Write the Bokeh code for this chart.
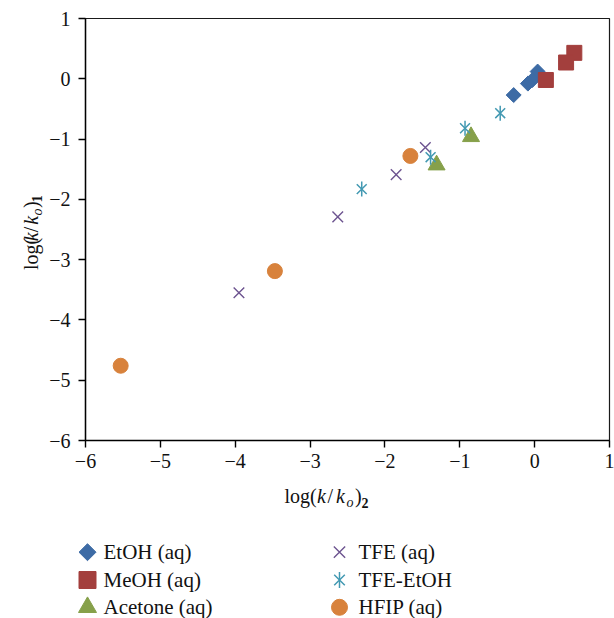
import numpy as np
from bokeh.plotting import figure
from bokeh.layouts import row, column
from bokeh.models import Range1d, FixedTicker
from bokeh.core.properties import value
from bokeh.embed import file_html
from bokeh.resources import INLINE

# ---- data ----
etoh_x = [0.04, -0.03, -0.09, -0.28]
etoh_y = [0.12, -0.02, -0.08, -0.27]
meoh_x = [0.53, 0.42, 0.15]
meoh_y = [0.43, 0.27, -0.02]
acetone_x = [-0.85, -1.31]
acetone_y = [-0.96, -1.43]
tfe_x = [-1.46, -1.85, -2.63, -3.95]
tfe_y = [-1.14, -1.59, -2.29, -3.55]
tfe_etoh_x = [-0.46, -0.93, -1.39, -2.31]
tfe_etoh_y = [-0.57, -0.82, -1.30, -1.83]
hfip_x = [-1.66, -3.47, -5.53]
hfip_y = [-1.28, -3.19, -4.76]

x_ticks = [-6, -5, -4, -3, -2, -1, 0, 1]
y_ticks = [-6, -5, -4, -3, -2, -1, 0, 1]
series_names = ["EtOH (aq)", "MeOH (aq)", "Acetone (aq)", "TFE (aq)", "TFE-EtOH", "HFIP (aq)"]
# axis titles as styled pieces: (text, style, size px, subscript)
x_title = [("log(", "normal", 20, False), ("k", "italic", 20, False), ("/", "normal", 20, False),
           ("k", "italic", 20, False), ("o", "italic", 14, True), (")", "normal", 20, False),
           ("2", "bold", 14, True)]
y_title = [("log(", "normal", 20, False), ("k", "italic", 20, False), ("/", "normal", 20, False),
           ("k", "italic", 20, False), ("o", "italic", 14, True), (")", "normal", 20, False),
           ("1", "bold", 14, True)]

# ---- styling / layout constants ----
FONT = "Liberation Serif"
TXT = "#111111"
C_ETOH, C_MEOH, C_ACET = "#3D6BA5", "#A33F3D", "#86A04A"
C_TFE, C_TFEE, C_HFIP = "#6D5490", "#4399B2", "#D8823C"
title_adv = [32.5, 10.5, 8.5, 10.5, 8.5, 6.5, 8]   # advance of each title piece, px
SUB_SHIFT = 4.5
MID = 0.3375        # distance baseline -> middle of text box, in em

W, H = 614, 618
YT_W = 44          # width of the strip holding the y title
MAIN_H = 480       # height of the main plot figure
BOT_H = H - MAIN_H # strip holding the x title and the legend


def plain(fig):
    fig.grid.visible = False
    fig.outline_line_color = None
    fig.background_fill_color = "white"
    fig.border_fill_color = "white"
    fig.min_border = 0


# ---- main plot ----
p = figure(width=W - YT_W, height=MAIN_H,
           x_range=Range1d(-6, 1), y_range=Range1d(-6, 1),
           output_backend="svg", toolbar_location=None,
           min_border_left=85 - YT_W, min_border_right=5,
           min_border_top=18, min_border_bottom=MAIN_H - 440)
p.grid.visible = False
p.outline_line_color = "#1a1a1a"
p.outline_line_width = 1.2
p.background_fill_color = "white"
p.border_fill_color = "white"

for ax, ticks in ((p.xaxis[0], x_ticks), (p.yaxis[0], y_ticks)):
    ax.ticker = FixedTicker(ticks=ticks)
    ax.major_label_overrides = {t: str(t).replace("-", "\u2212") for t in ticks}
    ax.major_tick_out = 7
    ax.major_tick_in = 0
    ax.minor_tick_out = 0
    ax.minor_tick_in = 0
    ax.axis_line_width = 1.4
    ax.axis_line_color = "black"
    ax.major_tick_line_width = 1.4
    ax.major_tick_line_color = "black"
    ax.major_label_text_font = FONT
    ax.major_label_text_font_size = "20px"
    ax.major_label_text_color = TXT
p.xaxis.major_label_standoff = 6
p.yaxis.major_label_standoff = 8

p.scatter(etoh_x, etoh_y, marker="square", angle=np.pi / 4, size=10.6,
          fill_color=C_ETOH, line_color=C_ETOH)
p.scatter(meoh_x, meoh_y, marker="square", size=15, fill_color=C_MEOH, line_color=C_MEOH)
p.scatter(acetone_x, acetone_y, marker="triangle", size=17, fill_color=C_ACET, line_color=C_ACET)
p.scatter(tfe_x, tfe_y, marker="x", size=15, line_color=C_TFE, line_width=1.4)
p.scatter(tfe_etoh_x, tfe_etoh_y, marker="x", size=14, line_color=C_TFEE, line_width=1.5)
p.scatter(tfe_etoh_x, tfe_etoh_y, marker="dash", angle=np.pi / 2, size=15,
          line_color=C_TFEE, line_width=1.5)
p.scatter(hfip_x, hfip_y, marker="circle", size=15, fill_color=C_HFIP, line_color=C_HFIP)

# ---- left strip: y title (rotated) ----
yt = figure(width=YT_W, height=MAIN_H, x_range=Range1d(0, YT_W), y_range=Range1d(0, MAIN_H),
            output_backend="svg", toolbar_location=None,
            x_axis_location=None, y_axis_location=None)
plain(yt)
y_base_x = 37           # baseline position (px from left)
pos = MAIN_H - 286      # start of the title (px from bottom)
for (txt, style, size, sub), adv in zip(y_title, title_adv):
    cx = y_base_x + (SUB_SHIFT if sub else 0) - MID * size
    yt.text(x=[cx], y=[pos], text=[txt], angle=np.pi / 2,
            text_font=value(FONT), text_font_style=value(style),
            text_font_size=value(f"{size}px"), text_color=TXT,
            text_align="left", text_baseline="middle")
    pos += adv

# ---- bottom strip: x title + legend ----
bot = figure(width=W, height=BOT_H, x_range=Range1d(0, W), y_range=Range1d(0, BOT_H),
             output_backend="svg", toolbar_location=None,
             x_axis_location=None, y_axis_location=None)
plain(bot)
x_base = 502.7          # baseline, px from top of page
pos = 284
for (txt, style, size, sub), adv in zip(x_title, title_adv):
    cy_page = x_base + (SUB_SHIFT if sub else 0) - MID * size
    bot.text(x=[pos], y=[H - cy_page], text=[txt],
             text_font=value(FONT), text_font_style=value(style),
             text_font_size=value(f"{size}px"), text_color=TXT,
             text_align="left", text_baseline="middle")
    pos += adv

# legend layout: 2 columns x 3 rows
leg_glyph_x = [87, 339]
leg_text_x = [103, 358]
leg_row_y = [H - 551.7, H - 579.5, H - 606.8]   # row centres (px from bottom)


def slot(i):
    c, r = divmod(i, 3)
    return leg_glyph_x[c], leg_row_y[r], leg_text_x[c]


gx, gy, _ = slot(0)
bot.scatter([gx], [gy], marker="square", angle=np.pi / 4, size=12, fill_color=C_ETOH, line_color=C_ETOH)
gx, gy, _ = slot(1)
bot.scatter([gx], [gy], marker="square", size=17, fill_color=C_MEOH, line_color=C_MEOH)
gx, gy, _ = slot(2)
bot.scatter([gx], [gy], marker="triangle", size=18, fill_color=C_ACET, line_color=C_ACET)
gx, gy, _ = slot(3)
bot.scatter([gx], [gy], marker="x", size=16, line_color=C_TFE, line_width=1.4)
gx, gy, _ = slot(4)
bot.scatter([gx], [gy], marker="x", size=15, line_color=C_TFEE, line_width=1.5)
bot.scatter([gx], [gy], marker="dash", angle=np.pi / 2, size=16, line_color=C_TFEE, line_width=1.5)
gx, gy, _ = slot(5)
bot.scatter([gx], [gy], marker="circle", size=16, fill_color=C_HFIP, line_color=C_HFIP)

tx = [slot(i)[2] for i in range(len(series_names))]
ty = [slot(i)[1] for i in range(len(series_names))]
bot.text(x=tx, y=ty, text=series_names, text_font=value(FONT),
         text_font_size=value("21px"), text_color=TXT,
         text_align="left", text_baseline="middle")

layout = column(row(yt, p, spacing=0), bot, spacing=0)
open("out.html", "w").write(file_html(layout, INLINE))
